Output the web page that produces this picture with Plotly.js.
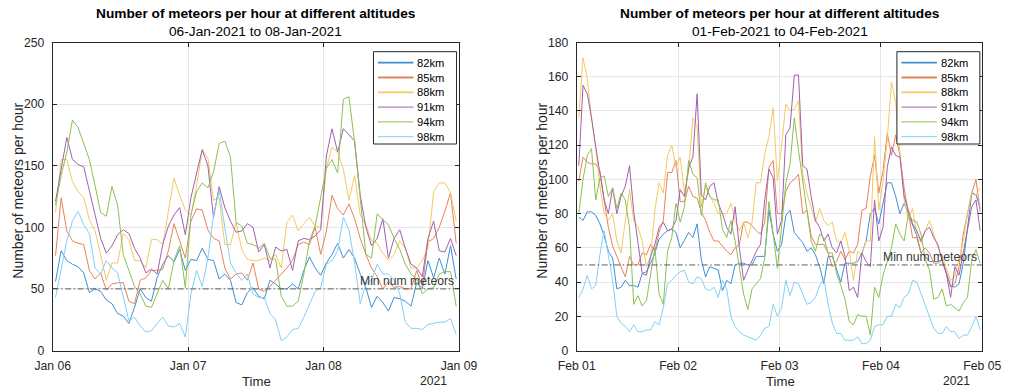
<!DOCTYPE html>
<html>
<head>
<meta charset="utf-8">
<script src="https://cdn.plot.ly/plotly-3.0.1.min.js"></script>
<style>html,body{margin:0;padding:0;background:#fff;}#chart{width:1013px;height:390px;}</style>
</head>
<body>
<div id="chart"></div>
<script>
// ---------------- DATA ----------------
var seriesNames = ['82km', '85km', '88km', '91km', '94km', '98km'];
var seriesColors = ['#3d8fd4', '#e8825a', '#f5c860', '#a060b0', '#8cc050', '#80d0f4'];
var minNum = 50;
var minLabel = 'Min num meteors';

// Panel 1: hourly counts, 06-Jan-2021 00:30 onward (72 hours)
var janStartUTC = [2021, 0, 6];
var janTickVals = ['2021-01-06', '2021-01-07', '2021-01-08', '2021-01-09'];
var janTickText = ['Jan 06', 'Jan 07', 'Jan 08', 'Jan 09'];
var jan82 = [56,81,73,70,68,63,47,50,48,41,38,30,28,22,35,50,43,40,59,70,77,72,82,65,74,73,83,74,73,58,62,57,39,37,47,51,
             44,42,57,54,50,50,54,50,65,76,67,61,71,78,87,75,82,75,62,51,35,44,39,32,43,42,40,36,55,50,73,59,75,62,85,58];
var jan85 = [77,124,97,89,87,86,65,58,63,49,54,55,55,40,38,57,59,65,65,66,81,103,89,75,105,115,114,98,91,89,67,58,62,63,57,71,
             50,48,52,57,62,67,73,86,88,86,100,78,97,126,115,110,119,107,91,78,67,60,50,56,51,52,50,50,65,52,88,91,100,113,128,87];
var jan88 = [112,155,155,137,129,124,106,97,78,57,71,71,95,90,73,73,67,90,90,86,113,140,126,114,110,134,163,156,122,124,86,86,104,82,74,73,
             73,75,73,78,67,104,110,97,103,108,101,100,148,165,161,147,122,142,110,102,89,87,79,73,78,89,83,67,67,73,83,129,136,136,128,105];
var jan91 = [121,148,173,155,151,149,129,109,91,79,85,94,98,95,83,75,63,66,62,86,101,110,116,94,124,144,163,150,108,133,116,105,96,97,103,100,
             80,86,67,84,81,82,65,89,91,90,93,98,158,180,161,180,175,170,126,100,85,91,107,75,91,98,83,70,67,60,91,105,81,80,91,77];
var jan94 = [118,142,161,187,181,168,155,134,112,109,133,118,78,65,52,46,36,35,46,57,50,73,85,51,110,129,136,132,145,168,170,157,104,101,87,86,
             83,87,75,74,44,36,36,40,62,89,101,126,148,155,144,204,206,169,124,78,75,111,106,102,91,82,70,62,58,46,50,51,62,64,64,36];
var jan98 = [43,66,89,105,113,102,95,67,62,73,67,63,44,24,27,20,15,16,22,27,20,19,22,11,46,65,52,75,110,130,100,71,63,57,62,46,
             43,43,30,25,8,11,17,18,27,38,48,51,70,73,81,108,98,71,38,54,57,70,62,62,57,46,23,18,18,17,21,22,23,23,26,13];

// Panel 2: hourly counts, 01-Feb-2021 00:30 onward (96 hours)
var febStartUTC = [2021, 1, 1];
var febTickVals = ['2021-02-01', '2021-02-02', '2021-02-03', '2021-02-04', '2021-02-05'];
var febTickText = ['Feb 01', 'Feb 02', 'Feb 03', 'Feb 04', 'Feb 05'];
var feb82 = [78,76,81,81,79,74,67,58,54,36,37,41,38,38,37,45,46,51,57,65,68,70,71,69,60,65,69,66,74,53,43,49,48,47,35,41,39,50,51,51,50,50,55,55,55,82,68,58,
             62,79,82,69,66,63,58,60,56,49,39,55,55,47,40,51,51,51,52,57,64,80,83,74,86,98,98,90,80,86,80,73,67,57,55,52,52,52,53,45,38,37,39,51,72,92,91,83];
var feb85 = [99,113,110,109,109,105,88,72,61,55,49,43,55,50,50,57,56,62,58,69,76,104,104,111,87,87,96,90,89,81,76,69,64,64,61,58,56,60,62,75,75,73,70,68,75,107,111,80,
             80,93,98,100,103,80,82,67,62,62,62,57,49,52,58,53,58,57,62,82,83,102,114,92,105,127,114,126,114,95,81,66,66,57,60,57,51,51,53,45,37,39,49,68,80,92,100,81];
var feb88 = [136,171,159,136,119,96,80,76,80,64,57,76,94,76,72,64,49,55,82,98,92,114,120,107,113,92,105,136,131,84,96,90,86,80,80,80,86,76,70,75,66,75,98,98,115,125,142,99,
             120,144,140,141,146,103,92,83,75,83,76,73,75,64,63,69,58,41,58,56,64,64,125,82,99,123,157,145,114,88,77,83,68,63,70,76,68,60,55,48,41,43,54,64,80,93,91,95];
var feb91 = [108,155,150,136,119,103,88,80,95,80,90,96,108,81,62,45,44,55,62,72,75,70,71,76,94,90,107,113,150,91,88,96,98,86,80,72,68,84,60,41,47,53,58,62,88,106,101,68,
             76,126,130,161,161,108,106,90,76,72,64,68,60,57,64,55,35,37,31,57,52,49,88,64,72,107,119,114,113,90,82,74,70,64,70,72,66,62,52,45,31,49,44,57,72,84,88,70];
var feb94 = [80,100,114,118,88,101,102,90,95,83,92,88,72,27,32,26,29,44,60,33,27,58,66,86,75,84,111,103,101,79,98,90,88,88,71,66,76,64,47,33,24,36,39,42,54,87,68,48,
             72,98,109,136,117,99,80,64,58,68,66,57,57,45,38,30,17,15,21,20,20,9,37,31,44,52,60,74,68,64,80,76,75,68,53,47,30,31,36,26,27,25,23,28,31,53,59,51];
var feb98 = [31,36,44,36,38,56,70,56,41,20,16,14,11,15,11,11,12,12,17,15,25,39,41,44,46,47,40,39,43,42,36,35,37,31,41,36,20,14,11,9,8,7,6,9,13,14,27,20,
             25,41,32,40,39,33,27,28,31,38,42,27,16,10,10,6,6,6,8,4,4,6,14,15,15,20,20,27,25,31,33,41,40,33,26,20,13,10,10,14,11,11,7,9,9,14,20,12];

var titleMain = 'Number of meteors per hour at different altitudes';
var janSub = '06-Jan-2021 to 08-Jan-2021';
var febSub = '01-Feb-2021 to 04-Feb-2021';
var yTitle = 'Number of meteors per hour';
var xTitle = 'Time';
var yearLabel = '2021';

// ---------------- BUILD ----------------
function hourTimes(start, n) {
  var t0 = Date.UTC(start[0], start[1], start[2], 0, 30);
  var out = [];
  for (var i = 0; i < n; i++) {
    out.push(new Date(t0 + i * 3600e3).toISOString().slice(0, 19).replace('T', ' '));
  }
  return out;
}
var janSeries = [jan82, jan85, jan88, jan91, jan94, jan98];
var febSeries = [feb82, feb85, feb88, feb91, feb94, feb98];
var janX = hourTimes(janStartUTC, jan82.length);
var febX = hourTimes(febStartUTC, feb82.length);

var traces = [];
janSeries.forEach(function (s, i) {
  traces.push({x: janX, y: s, type: 'scatter', mode: 'lines', name: seriesNames[i],
    line: {color: seriesColors[i], width: 1}, xaxis: 'x', yaxis: 'y', showlegend: false, hoverinfo: 'x+y+name'});
});
febSeries.forEach(function (s, i) {
  traces.push({x: febX, y: s, type: 'scatter', mode: 'lines', name: seriesNames[i],
    line: {color: seriesColors[i], width: 1}, xaxis: 'x2', yaxis: 'y2', showlegend: false, hoverinfo: 'x+y+name'});
});

var W = 1013, H = 390;
var axColor = '#262626';
var gridColor = '#e6e6e6';
var fontFam = 'Liberation Sans, Arial, Helvetica, sans-serif';
var xDom1 = [52.7 / W, 459 / W];
var xDom2 = [576.7 / W, 982.3 / W];
var yDom = [1 - 350.5 / H, 1 - 42.5 / H];

function xAxis(dom, tv, tt, anchor) {
  return {domain: dom, type: 'date', range: [tv[0], tv[tv.length - 1]], tickmode: 'array',
    tickvals: tv, ticktext: tt, ticks: 'inside', ticklen: 4, tickcolor: axColor, tickwidth: 1,
    showline: true, linecolor: axColor, linewidth: 1, mirror: 'ticks', showgrid: true,
    gridcolor: gridColor, gridwidth: 1, zeroline: false, anchor: anchor,
    tickfont: {family: fontFam, size: 12.2, color: axColor}, ticklabelstandoff: 4, fixedrange: true};
}
function yAxis(rng, dt, anchor) {
  return {domain: yDom, range: rng, tick0: 0, dtick: dt, ticks: 'inside', ticklen: 4,
    tickcolor: axColor, tickwidth: 1, showline: true, linecolor: axColor, linewidth: 1,
    mirror: 'ticks', showgrid: true, gridcolor: gridColor, gridwidth: 1, zeroline: false,
    anchor: anchor, tickfont: {family: fontFam, size: 12.2, color: axColor},
    ticklabelstandoff: 5, fixedrange: true};
}

var shapes = [];
var annotations = [];

function panelDecor(xr, yr, domX, sub) {
  // threshold line
  shapes.push({type: 'line', xref: xr + ' domain', yref: yr, x0: 0, x1: 1, y0: minNum, y1: minNum,
    line: {color: '#5c5c5c', width: 1, dash: '6px,2.5px,1.5px,2.5px'}, layer: 'above'});
  annotations.push({xref: xr + ' domain', yref: yr, x: 0.992, y: minNum, xanchor: 'right', yanchor: 'bottom',
    yshift: -1.5, text: minLabel, showarrow: false, font: {family: fontFam, size: 12.2, color: '#3a3a3a'}});
  // legend (manual, MATLAB style)
  var pw = (domX[1] - domX[0]) * W, ph = (yDom[1] - yDom[0]) * H;
  var bx0 = 0.7895, bx1 = 0.994;
  var by1 = 1 - 9.2 / ph, by0 = 1 - 101.5 / ph;
  shapes.push({type: 'rect', xref: xr + ' domain', yref: yr + ' domain', x0: bx0, x1: bx1, y0: by0, y1: by1,
    fillcolor: '#ffffff', line: {color: axColor, width: 1}, layer: 'above'});
  seriesNames.forEach(function (nm, i) {
    var yy = 1 - (20.2 + 14.8 * i) / ph;
    shapes.push({type: 'line', xref: xr + ' domain', yref: yr + ' domain',
      x0: bx0 + 4.5 / pw, x1: bx0 + 40 / pw, y0: yy, y1: yy,
      line: {color: seriesColors[i], width: i < 3 ? 1.8 : 1}, layer: 'above'});
    annotations.push({xref: xr + ' domain', yref: yr + ' domain', x: bx0 + 42 / pw, y: yy,
      xanchor: 'left', yanchor: 'middle', text: nm, showarrow: false,
      font: {family: fontFam, size: 11.2, color: '#000'}});
  });
  var cx = (domX[0] + domX[1]) / 2;
  annotations.push({xref: 'paper', yref: 'paper', x: cx, y: 1 - 14 / H, xanchor: 'center', yanchor: 'middle',
    text: '<b>' + titleMain + '</b>', showarrow: false, font: {family: fontFam, size: 13.7, color: '#000'}});
  annotations.push({xref: 'paper', yref: 'paper', x: cx, y: 1 - 31.5 / H, xanchor: 'center', yanchor: 'middle',
    text: sub, showarrow: false, font: {family: fontFam, size: 13.7, color: '#000'}});
  annotations.push({xref: 'paper', yref: 'paper', x: cx + 0.5 / W, y: 1 - 381.5 / H, xanchor: 'center', yanchor: 'middle',
    text: xTitle, showarrow: false, font: {family: fontFam, size: 13.2, color: axColor}});
  annotations.push({xref: 'paper', yref: 'paper', x: domX[1] - 25.5 / W, y: 1 - 381 / H, xanchor: 'center', yanchor: 'middle',
    text: yearLabel, showarrow: false, font: {family: fontFam, size: 12.2, color: axColor}});
  annotations.push({xref: 'paper', yref: 'paper', x: domX[0] - 35 / W, y: 1 - 191 / H, xanchor: 'center', yanchor: 'middle',
    text: yTitle, textangle: -90, showarrow: false, font: {family: fontFam, size: 14, color: axColor}});
}
panelDecor('x', 'y', xDom1, janSub);
panelDecor('x2', 'y2', xDom2, febSub);

var layout = {
  width: W, height: H, margin: {l: 0, r: 0, t: 0, b: 0},
  paper_bgcolor: '#ffffff', plot_bgcolor: '#ffffff',
  font: {family: fontFam, size: 12, color: axColor},
  showlegend: false,
  xaxis: xAxis(xDom1, janTickVals, janTickText, 'y'),
  yaxis: yAxis([0, 250], 50, 'x'),
  xaxis2: xAxis(xDom2, febTickVals, febTickText, 'y2'),
  yaxis2: yAxis([0, 180], 20, 'x2'),
  shapes: shapes,
  annotations: annotations
};

Plotly.newPlot('chart', traces, layout, {displayModeBar: false, staticPlot: true});
</script>
</body>
</html>
